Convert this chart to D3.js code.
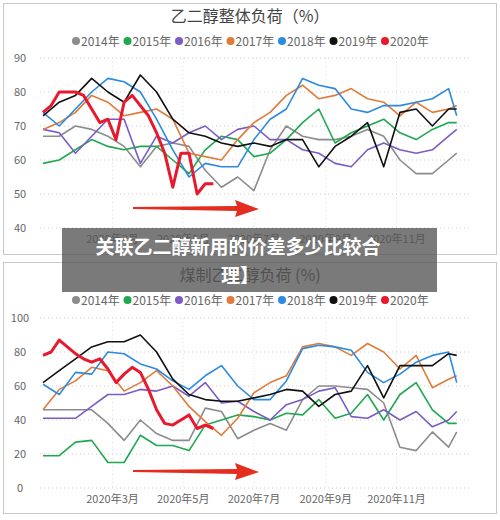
<!DOCTYPE html><html><head><meta charset="utf-8">
<script src="https://cdn.jsdelivr.net/npm/d3@7"></script>
<style>body{margin:0;background:#fff}svg{font-family:"Noto Sans CJK SC","Noto Sans",sans-serif}</style></head><body>
<svg id="c" width="500" height="520"></svg>
<script>
const years=["2014年","2015年","2016年","2017年","2018年","2019年","2020年"];
const colors=["#8c8c8c","#1fa84f","#7b5cc4","#e07b39","#2b8be0","#111111","#e8192c"];
const monthTicks=["2020年3月","2020年5月","2020年7月","2020年9月","2020年11月"];
// biweekly values (weeks 0,2,...,50 then 51); 2020 weekly
const top2014=[67,67,70,69,67,64,58,64,65,64,57,52,55,51,63,70,67,66,66,67,69,67,60,56,56,60,62];
const top2015=[59,60,63,66,64,63,64,64,60,56,63,67,66,61,62,66,71,75,65,68,70,72,68,66,69,71,71];
const top2016=[69,68,62,67,72,72,59,67,65,68,70,66,69,70,66,66,63,62,59,58,63,65,63,62,63,67,69];
const top2017=[69,71,74,79,77,73,74,75,72,62,61,60,66,71,74,79,82,78,79,81,78,77,73,77,74,75,76];
const top2018=[74,70,75,80,84,83,80,72,63,55,59,58,58,66,72,75,84,82,81,75,74,76,76,77,78,81,73];
const top2019=[73,77,79,84,80,77,85,80,72,68,67,65,64,65,64,66,66,58,64,67,71,58,74,75,70,75,75];
const top2020=[74,76,80,80,80,79,75,71,72,66,77,79,76,73,68,62,52,62,62,50,53,53];
const bot2014=[46,46,46,46,38,28,40,32,28,28,47,45,29,34,38,34,52,60,60,59,58,50,24,22,33,24,33];
const bot2015=[19,19,27,28,15,15,31,25,25,22,37,40,43,42,40,44,43,52,41,44,55,40,55,62,46,38,38];
const bot2016=[41,41,41,48,55,55,58,57,60,54,62,50,51,45,40,49,52,57,59,42,41,46,40,45,36,40,45];
const bot2017=[46,58,63,71,69,57,62,69,60,48,39,31,41,56,62,66,83,85,83,78,85,80,70,78,59,64,66];
const bot2018=[61,55,68,67,80,79,73,70,63,58,66,72,60,52,52,63,82,84,83,81,68,62,67,74,78,80,62];
const bot2019=[62,69,76,83,86,86,90,80,64,55,52,51,51,53,55,58,57,48,55,57,72,53,72,72,72,79,78];
const bot2020=[78,80,87,83,79,76,74,76,70,62,67,71,68,58,46,38,37,40,43,35,37,35];
const topTicks=[40,50,60,70,80,90], botTicks=[0,20,40,60,80,100];

const svg=d3.select("#c");
const biWeeks=d3.range(0,52,2).concat([51]);
const wDate=w=>new Date(2020,0,1+w*7);
const x=d3.scaleTime().domain([new Date(2020,0,1),new Date(2020,11,31)]).range([43,466]);
const monthDates=[2,4,6,8,10].map(m=>new Date(2020,m,1));

function chart(y0,title,ydom,yr,ticks,series,arrowY){
  const g=svg.append("g");
  g.append("rect").attr("x",3.5).attr("y",y0+0.5).attr("width",493).attr("height",251).attr("fill","#fff").attr("stroke","#c8c8c8");
  const y=d3.scaleLinear().domain(ydom).range(yr);
  g.append("text").attr("x",250).attr("y",y0+19).attr("text-anchor","middle").attr("font-size",16).attr("fill","#444").text(title);
  // legend
  let lx=72;
  years.forEach((t,i)=>{
    g.append("circle").attr("cx",lx+4).attr("cy",y0+38).attr("r",4).attr("fill",colors[i]);
    g.append("text").attr("x",lx+9).attr("y",y0+42.5).attr("font-size",12).attr("fill","#666").text(t);
    lx+=51.5;
  });
  // grid
  ticks.forEach(t=>{
    g.append("line").attr("x1",40).attr("x2",470).attr("y1",y(t)).attr("y2",y(t)).attr("stroke","#ccc").attr("stroke-dasharray","1,3");
    g.append("text").attr("x",20).attr("y",y(t)+4).attr("text-anchor","middle").attr("font-size",11).attr("fill","#666").text(t);
  });
  monthDates.forEach((d,i)=>{
    g.append("line").attr("x1",x(d)).attr("x2",x(d)).attr("y1",yr[1]).attr("y2",yr[0]).attr("stroke","#ddd").attr("stroke-dasharray","1,3");
    g.append("text").attr("x",x(d)).attr("y",yr[0]+15).attr("text-anchor","middle").attr("font-size",11).attr("fill","#666").text(monthTicks[i]);
  });
  const line=d3.line().x(d=>x(wDate(d[0]))).y(d=>y(d[1]));
  series.forEach((s,i)=>{
    const pts=(i===6?s.map((v,k)=>[k,v]):s.map((v,k)=>[biWeeks[k],v]));
    g.append("path").attr("d",line(pts)).attr("fill","none").attr("stroke",colors[i]).attr("stroke-width",i===6?3:1.6).attr("stroke-linejoin","round");
  });
  // arrow
  const ax0=133, ax1=259, ay=arrowY;
  g.append("path").attr("d",`M${ax0},${ay-1} L${ax1-22},${ay-2} L${ax1-24},${ay-8} L${ax1},${ay+1} L${ax1-24},${ay+9} L${ax1-22},${ay+3} L${ax0},${ay+1}Z`).attr("fill","#e52d1f");
}
chart(3,"乙二醇整体负荷（%）",[40,90],[228,58],topTicks,[top2014,top2015,top2016,top2017,top2018,top2019,top2020],208);
chart(262,"煤制乙二醇负荷 (%)",[0,100],[488,318],botTicks,[bot2014,bot2015,bot2016,bot2017,bot2018,bot2019,bot2020],471);
// overlay caption
svg.append("rect").attr("x",62).attr("y",228).attr("width",375).attr("height",64).attr("fill","#555").attr("opacity",0.78);
svg.append("text").attr("x",238).attr("y",254).attr("text-anchor","middle").attr("font-size",19).attr("font-weight","bold").attr("fill","#fff").text("关联乙二醇新用的价差多少比较合");
svg.append("text").attr("x",240).attr("y",283).attr("text-anchor","middle").attr("font-size",19).attr("font-weight","bold").attr("fill","#fff").text("理】");
</script></body></html>
